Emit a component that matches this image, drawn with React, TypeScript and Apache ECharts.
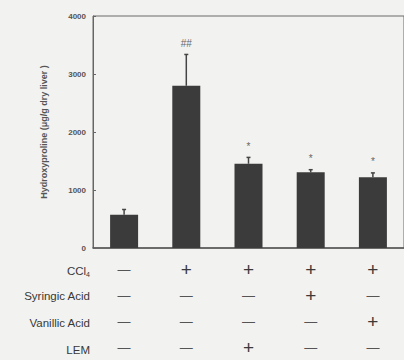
import React, { useEffect, useRef } from "react";
import * as echarts from "echarts";

const groups = ["G1", "G2", "G3", "G4", "G5"];
const values = [574, 2797, 1452, 1305, 1220];
const errors = [90, 540, 110, 45, 75];
const significance = ["", "##", "*", "*", "*"];
const rowLabels = ["CCl{sub|4}", "Syringic Acid", "Vanillic Acid", "LEM"];
const rowSigns = [
  ["-", "+", "+", "+", "+"],
  ["-", "-", "-", "+", "-"],
  ["-", "-", "-", "-", "+"],
  ["-", "-", "+", "-", "-"],
];
const yTicks = [0, 1000, 2000, 3000, 4000];

export default function App() {
  const ref = useRef<HTMLDivElement>(null);
  useEffect(() => {
    const chart = echarts.init(ref.current!, null, { renderer: "svg" });
    const font = "Liberation Sans, Arial, sans-serif";
    const rowY = [271, 296, 323, 350];
    chart.setOption({
      animation: false,
      backgroundColor: "#f2f2f0",
      grid: {
        left: 93,
        top: 16,
        width: 319,
        height: 235,
        show: true,
        borderColor: "#6a6a6a",
        borderWidth: 1,
        backgroundColor: "transparent",
      },
      xAxis: {
        type: "category",
        data: groups,
        axisLine: { show: true, lineStyle: { color: "#555", width: 1.5 } },
        axisTick: { show: false },
        axisLabel: {
          interval: 0,
          margin: 8,
          lineHeight: 26,
          fontFamily: font,
          formatter: (_v: string, i: number) =>
            rowSigns.map((r) => (r[i] === "+" ? "{p|+}" : "{m|—}")).join("\n"),
          rich: {
            p: { fontSize: 19, lineHeight: 26, color: "#3a3a3a", fontFamily: font },
            m: { fontSize: 13, lineHeight: 26, color: "#555", fontFamily: font },
          },
        },
      },
      yAxis: {
        type: "value",
        min: yTicks[0],
        max: yTicks[yTicks.length - 1],
        interval: 1000,
        name: "Hydroxyproline (μg/g dry liver )",
        nameLocation: "middle",
        nameGap: 45,
        nameTextStyle: { fontSize: 9, fontWeight: "bold", color: "#555", fontFamily: font },
        axisLine: { show: true, lineStyle: { color: "#666", width: 1 } },
        axisTick: { show: true, inside: true, length: 3, lineStyle: { color: "#666" } },
        splitLine: { show: false },
        axisLabel: {
          fontSize: 8,
          fontWeight: "bold",
          color: "#555",
          margin: 7,
          fontFamily: font,
          formatter: (v: number) => String(v),
        },
      },
      graphic: rowLabels.map((t, i) => ({
        type: "text",
        x: 90,
        y: rowY[i],
        style: {
          text: t,
          align: "right",
          verticalAlign: "middle",
          fontSize: 11.5,
          fill: "#383838",
          fontFamily: font,
          rich: { sub: { fontSize: 7, verticalAlign: "bottom", padding: [6, 0, 0, 0], fill: "#383838" } },
        },
      })),
      series: [
        {
          type: "bar",
          data: values,
          barWidth: 28,
          itemStyle: { color: "#3b3b3b" },
        },
        {
          type: "custom",
          data: values.map((v, i) => [i, v, errors[i]]),
          z: 5,
          renderItem: (params: any, api: any) => {
            const x = api.value(0);
            const v = api.value(1);
            const e = api.value(2);
            const p0 = api.coord([x, v]);
            const p1 = api.coord([x, v + e]);
            const s = { stroke: "#444", lineWidth: 1.5 };
            return {
              type: "group",
              children: [
                { type: "line", shape: { x1: p0[0], y1: p0[1], x2: p1[0], y2: p1[1] }, style: s },
                { type: "line", shape: { x1: p1[0] - 2, y1: p1[1], x2: p1[0] + 2, y2: p1[1] }, style: s },
                {
                  type: "text",
                  x: p1[0],
                  y: p1[1] - 6,
                  style: {
                    text: significance[params.dataIndex],
                    align: "center",
                    verticalAlign: "bottom",
                    fontSize: 10,
                    fill: "#666",
                    fontFamily: font,
                  },
                },
              ],
            };
          },
        },
      ],
    });
    return () => chart.dispose();
  }, []);
  return (
    <div
      ref={ref}
      style={{ position: "fixed", left: 0, top: 0, width: 404, height: 360 }}
    />
  );
}
